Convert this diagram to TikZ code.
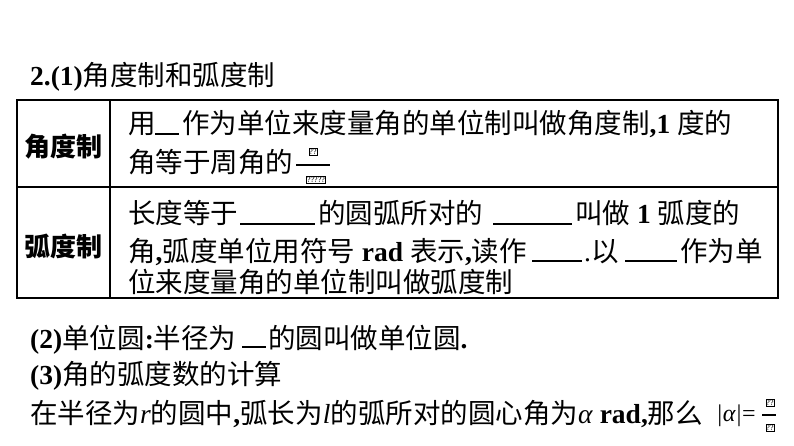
\documentclass[tikz,border=0pt]{standalone}
\usepackage{fontspec}
\setmainfont{Liberation Serif}
\newfontfamily\cjk{Noto Sans CJK SC}
\begin{document}
\begin{tikzpicture}[x=1pt,y=-1pt,
  t/.style={anchor=base west,inner sep=0pt,font=\fontsize{27.5}{27.5}\selectfont},
  lab/.style={anchor=center,inner sep=0pt,font=\fontsize{26}{26}\selectfont\cjk\bfseries},
  bl/.style={line width=1.2pt},
  qb/.style={draw,line width=0.5pt,inner sep=0.6pt,font=\fontsize{8}{8}\selectfont}]
\useasboundingbox (0,0) rectangle (794,446);
\newcommand{\cj}[1]{{\cjk #1}}
\node[t] (ti) at (30,86) {\textbf{2.(1)}\cj{角度制和弧度制}};
% table
\draw[line width=2.5pt] (17,100) rectangle (778,298);
\draw[line width=1.2pt] (110,100) -- (110,298);
\draw[line width=1.2pt] (17,187) -- (778,187);
\node[lab] (l1) at (63,147) {角度制};
\node[lab] (l2) at (63,246) {弧度制};
% row1
\node[t] (a1) at (128,134) {\cj{用}};
\draw[bl] (155,134) -- (179,134);
\node[t] (a2) at (182,134) {\cj{作为单位来度量角的单位制叫做角度制}\textbf{,1} \cj{度的}};
\node[t] (a3) at (128,173) {\cj{角等于周角的}};
\draw[bl] (296,165) -- (330,165);
\node[qb] (q1) at (313,152) {??};
\node[qb] (q2) at (316,180) {?????};
% row2
\node[t] (b1) at (128,224) {\cj{长度等于}};
\draw[bl] (240,224) -- (315,224);
\node[t] (b2) at (318,224) {\cj{的圆弧所对的}};
\draw[bl] (493,224) -- (572,224);
\node[t] (b3) at (575,224) {\cj{叫做} \textbf{1} \cj{弧度的}};
\node[t] (b4) at (128,261) {\cj{角}\textbf{,}\cj{弧度单位用符号} \textbf{rad} \cj{表示}\textbf{,}\cj{读作}};
\draw[bl] (532,261) -- (582,261);
\node[t] (b5) at (584,261) {.\cj{以}};
\draw[bl] (625,261) -- (677,261);
\node[t] (b6) at (680,261) {\cj{作为单}};
\node[t] (b7) at (128,292) {\cj{位来度量角的单位制叫做弧度制}};
% below
\node[t] (c1) at (30,348) {\textbf{(2)}\cj{单位圆}\textbf{:}\cj{半径为}};
\draw[bl] (242,347) -- (266,347);
\node[t] (c2) at (268,348) {\cj{的圆叫做单位圆}\textbf{.}};
\node[t] (d1) at (30,384) {\textbf{(3)}\cj{角的弧度数的计算}};
\node[t] (e1) at (30,423) {\cj{在半径为}\textit{r}\cj{的圆中}\textbf{,}\cj{弧长为}\textit{l}\cj{的弧所对的圆心角为}\textit{α} \textbf{rad,}\cj{那么}};
\node[t] (e2) at (716,421) {\fontsize{24}{24}\selectfont\textit{|α|}=};
\draw[bl] (762,415) -- (776,415);
\node[qb] (q3) at (770,403) {??};
\node[qb] (q4) at (770,428) {??};
\end{tikzpicture}
\end{document}
